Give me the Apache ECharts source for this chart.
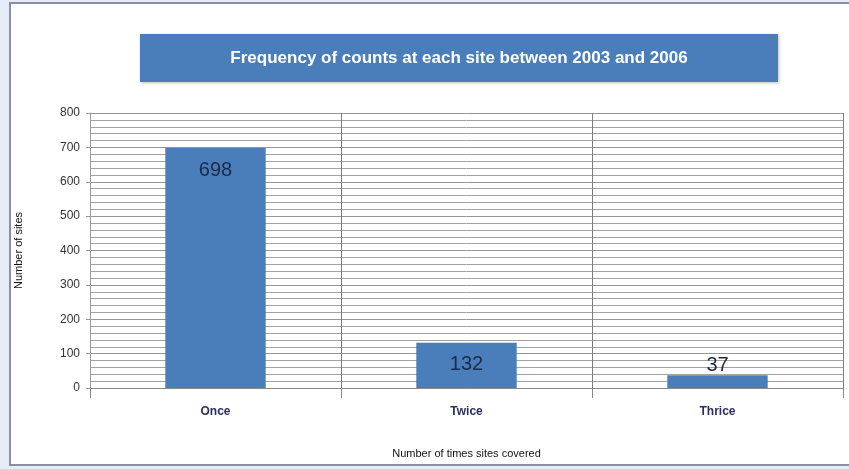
<!DOCTYPE html>
<html>
<head>
<meta charset="utf-8">
<script src="https://cdn.jsdelivr.net/npm/echarts@6/dist/echarts.min.js"></script>
<style>
  html, body { margin: 0; padding: 0; background: #e6ecf5; }
  #chart_wrap { width: 849px; height: 469px; }
</style>
</head>
<body>
<div id="chart_wrap"></div>
<script>
// data
var categories = ['Once', 'Twice', 'Thrice'];
var siteCounts = [698, 132, 37];
var yTicks = [0, 100, 200, 300, 400, 500, 600, 700, 800];

var chart = echarts.init(document.getElementById('chart_wrap'));

var barData = siteCounts.map(function (v) {
    // small bars get their number on top, the rest inside
    var inside = v > 100;
    return {
        value: v,
        label: {
            position: inside ? 'insideTop' : 'top',
            distance: inside ? 12 : 0
        }
    };
});

var option = {
    backgroundColor: '#e6ecf5',
    graphic: [
        {
            type: 'rect',
            shape: { x: 10, y: 3, width: 860, height: 462 },
            style: { fill: '#ffffff', stroke: '#8a8ea6', lineWidth: 2 },
            z: -10
        },
        {
            type: 'rect',
            shape: { x: 140, y: 34, width: 638, height: 48 },
            style: { fill: '#4a7ebb', shadowBlur: 3, shadowColor: 'rgba(0,0,0,0.25)', shadowOffsetX: 1, shadowOffsetY: 1 }
        },
        {
            type: 'text',
            x: 459, y: 58,
            style: {
                text: 'Frequency of counts at each site between 2003 and 2006',
                fill: '#ffffff',
                font: 'bold 17px "Liberation Sans", Arial, sans-serif',
                align: 'center',
                verticalAlign: 'middle'
            }
        }
    ],
    grid: { left: 90, right: 6, top: 113, bottom: 81 },
    xAxis: {
        type: 'category',
        data: categories,
        name: 'Number of times sites covered',
        nameLocation: 'middle',
        nameGap: 60,
        nameTextStyle: { color: '#111', fontSize: 11, fontFamily: 'Liberation Sans, Arial, sans-serif' },
        axisLine: { lineStyle: { color: '#8a8a8a' } },
        axisTick: { show: true, length: 10, lineStyle: { color: '#888' } },
        axisLabel: {
            color: '#2c2f5e', fontWeight: 'bold', fontSize: 12, margin: 18,
            fontFamily: 'Liberation Sans, Arial, sans-serif'
        },
        splitLine: { show: true, lineStyle: { color: '#7e7e7e', width: 1 } }
    },
    yAxis: {
        type: 'value',
        min: 0,
        max: 800,
        interval: 100,
        name: 'Number of sites',
        nameLocation: 'middle',
        nameGap: 66,
        nameTextStyle: { color: '#111', fontSize: 11, fontFamily: 'Liberation Sans, Arial, sans-serif' },
        axisLine: { show: true, lineStyle: { color: '#9a9a9a' } },
        axisTick: { show: true, length: 4, lineStyle: { color: '#999' } },
        axisLabel: {
            color: '#333', fontSize: 12, margin: 10,
            fontFamily: 'Liberation Sans, Arial, sans-serif',
            formatter: function (v) { return yTicks.indexOf(v) >= 0 ? String(v) : ''; }
        },
        splitLine: { show: true, lineStyle: { color: '#969696', width: 1 } },
        minorTick: { show: false, splitNumber: 5 },
        minorSplitLine: { show: true, lineStyle: { color: '#a2a2a2', width: 1 } }
    },
    series: [
        {
            name: 'Number of sites',
            type: 'bar',
            data: barData,
            barWidth: '40%',
            itemStyle: { color: '#4a7ebb' },
            label: {
                show: true,
                color: '#1c2a48',
                fontSize: 20,
                fontFamily: 'Liberation Sans, Arial, sans-serif'
            },
            z: 3
        }
    ]
};

chart.setOption(option);
</script>
</body>
</html>
